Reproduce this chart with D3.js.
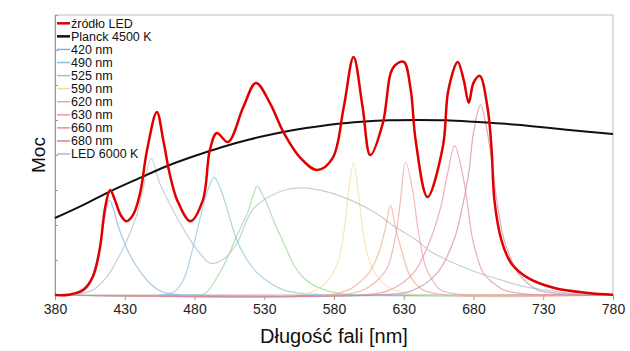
<html lang="pl">
<head>
<meta charset="utf-8">
<title>Widmo źródła LED</title>
<style>
    body {margin: 0; background: white;}
    svg {background: white; font-family: "Liberation Sans", Arial, sans-serif;}
    .frame {fill: none; stroke: #bdbdbd; stroke-width: 1;}
    .axis path, .axis line {stroke: #9a9a9a;}
    .axis text {fill: #222; font-size: 14px;}
    .comp {fill: none; stroke-width: 1.2; stroke-opacity: 0.7;}
    .legend text {font-size: 12.5px; fill: #111;}
</style>
</head>
<body>
<div id="chart"></div>
<script src="https://cdn.jsdelivr.net/npm/d3@7"></script>
<script>
// values: [wavelength nm, power]
var xTicks = [380, 430, 480, 530, 580, 630, 680, 730, 780];

var ledSource = [[380,0],[390,0.01],[400,0.14],[407,0.51],[412,1.29],[416,2.51],[419.5,3.0],[423,2.71],[427,2.29],[431,2.11],
    [436,2.29],[441,2.91],[446,4.14],[453,5.23],[457.6,4.43],[462,3.5],[467.6,2.71],[477,2.11],[486,2.71],[491,4.14],
    [496,4.63],[504,4.37],[515,5.37],[524,6.06],[534,5.49],[544,4.63],[556,3.91],[568,3.57],[579,3.91],[587,5.37],
    [594,6.8],[600.5,5.37],[606,4.0],[615,4.91],[620.6,6.34],[624,6.57],[630,6.66],[635,5.86],[638.5,4.43],[647,2.8],
    [658,4.23],[662,5.86],[668.7,6.66],[673,6.14],[676.6,5.49],[680,6.06],[684.5,6.26],[690,5.37],[693,4.14],[695,2.71],
    [700,1.57],[707,0.91],[719,0.49],[738,0.2],[762,0.06],[780,0.01]];

var planck = [[380,2.2],[400,2.57],[420,2.97],[440,3.33],[460,3.68],[480,3.97],[500,4.23],[520,4.45],[540,4.63],[560,4.77],
    [580,4.88],[600,4.95],[620,4.99],[640,5.0],[660,4.99],[680,4.95],[700,4.9],[720,4.83],[740,4.75],[760,4.67],[780,4.6]];

var led420 = [[380,0],[398,0.05],[404,0.25],[408,0.7],[412,1.37],[415,2.1],[419,2.71],[422,2.45],[425,2.0],[429,1.57],
    [433,1.2],[438,0.85],[443,0.57],[449,0.3],[455,0.12],[462,0.03],[475,0],[780,0]];
var led490 = [[380,0],[455,0],[465,0.08],[472,0.43],[479,1.37],[486,2.51],[490,3.05],[494,3.37],[498,3.1],[503,2.51],
    [510,1.6],[517,1.05],[525,0.63],[535,0.32],[544,0.14],[560,0.03],[580,0],[780,0]];
var led525 = [[380,0],[480,0],[488,0.06],[498,0.63],[504,1.1],[509,1.57],[514,2.0],[518,2.34],[522,2.85],[525,3.11],
    [529,2.85],[533,2.51],[538,2.0],[543,1.57],[552,0.8],[558,0.5],[565,0.29],[581,0.06],[600,0],[780,0]];
var led590 = [[380,0],[550,0],[562,0.06],[574,0.34],[582.5,0.91],[587,1.77],[590.5,3.0],[594,3.77],[597.5,2.91],[601,1.77],
    [606,0.91],[615,0.34],[629,0.06],[645,0],[780,0]];
var led620 = [[380,0],[575,0],[590,0.14],[598,0.35],[605,0.63],[612,1.2],[617,1.94],[620.5,2.57],[624,1.94],[629,1.2],
    [633.5,0.63],[638,0.35],[644,0.14],[660,0],[780,0]];
var led630 = [[380,0],[585,0],[598,0.1],[605,0.23],[612,0.45],[618.5,0.8],[624,1.66],[627.7,2.71],[631.3,3.8],[636.4,3.0],
    [640,1.94],[645.7,0.8],[651,0.4],[656.5,0.14],[670,0.02],[690,0],[780,0]];
var led660 = [[380,0],[600,0],[620,0.14],[637,0.63],[649,1.57],[656.5,2.51],[661.5,3.49],[666.5,4.26],[672,3.49],[676,2.51],
    [679.5,1.57],[687,0.63],[694,0.35],[702,0.14],[720,0.02],[740,0],[780,0]];
var led680 = [[380,0],[610,0],[637,0.14],[654,0.63],[666,1.57],[672,2.51],[676.6,3.49],[680,4.63],[685,5.43],[690,4.63],
    [694,3.49],[697.5,2.51],[702,1.57],[712,0.63],[719,0.33],[726,0.14],[745,0.03],[770,0],[780,0]];
var led6000 = [[380,0],[395,0.02],[407,0.14],[417,0.51],[424.5,1.0],[431.7,1.57],[439,2.34],[443,3.0],[449,3.9],[455,3.2],
    [461,2.7],[467.6,2.2],[477,1.57],[486,1.09],[491,0.91],[500,1.0],[510,1.45],[521.5,2.43],[533,2.8],[545,3.0],
    [557,3.06],[576,2.94],[592,2.71],[610,2.34],[624,1.94],[638,1.6],[649,1.25],[661,1.0],[680,0.68],[698,0.45],
    [714,0.26],[732,0.14],[750,0.05],[770,0.01],[780,0]];

var legendNames = ["źródło LED", "Planck 4500 K", "420 nm", "490 nm", "525 nm", "590 nm", "620 nm", "630 nm", "660 nm", "680 nm", "LED 6000 K"];
var legendColors = ["#e00000", "#111111", "#7fb0de", "#86c3d6", "#8fd88f", "#f5dc9c", "#f2a882", "#f09a9a", "#e88aa0", "#c58aa6", "#b0bac2"];

var width = 630, height = 351;
var margin = {top: 15, left: 55, right: 17, bottom: 56};

var svg = d3.select("#chart")
    .append("svg")
    .attr("width", width)
    .attr("height", height);

var x = d3.scaleLinear()
    .domain([380, 780])
    .range([margin.left, width - margin.right]);

var y = d3.scaleLinear()
    .domain([0, 8])
    .range([height - margin.bottom, margin.top]);

var line = d3.line()
    .x(function(d) { return x(d[0]); })
    .y(function(d) { return Math.min(y(d[1]), y(0)); })
    .curve(d3.curveCatmullRom.alpha(0.5));

// frame
svg.append("rect")
    .attr("class", "frame")
    .attr("x", x(380))
    .attr("y", y(8))
    .attr("width", x(780) - x(380))
    .attr("height", y(0) - y(8));

svg.append("g")
    .attr("class", "axis")
    .attr("transform", "translate(0," + y(0) + ")")
    .call(d3.axisBottom(x).tickValues(xTicks).tickSize(5).tickSizeOuter(0).tickPadding(4));

svg.append("g")
    .attr("class", "axis")
    .attr("transform", "translate(" + x(380) + ",0)")
    .call(d3.axisLeft(y).ticks(8).tickSize(-3).tickSizeOuter(0).tickFormat(""));

// component spectra (legend order 2..10)
var comps = [led420, led490, led525, led590, led620, led630, led660, led680, led6000];
svg.selectAll(".comp")
    .data(comps)
    .enter().append("path")
    .attr("class", "comp")
    .attr("d", line)
    .style("stroke", function(d, i) { return legendColors[i + 2]; });

svg.append("path")
    .attr("d", line(planck))
    .style("fill", "none")
    .style("stroke", legendColors[1])
    .style("stroke-width", 2);

svg.append("path")
    .attr("d", line(ledSource))
    .style("fill", "none")
    .style("stroke", legendColors[0])
    .style("stroke-width", 2.5);

// legend
var legend = svg.append("g").attr("class", "legend");
var rows = legend.selectAll("g")
    .data(legendNames)
    .enter().append("g")
    .attr("transform", function(d, i) { return "translate(57," + (23.3 + i * 13.07) + ")"; });

rows.append("line")
    .attr("x1", 0).attr("x2", 13)
    .style("stroke", function(d, i) { return legendColors[i]; })
    .style("stroke-width", function(d, i) { return i < 2 ? 2.5 : 1.5; });

rows.append("text")
    .attr("x", 14)
    .attr("dy", "0.35em")
    .text(function(d) { return d; });

// axis titles
svg.append("text")
    .attr("x", (x(380) + x(780)) / 2)
    .attr("y", 343)
    .attr("text-anchor", "middle")
    .style("font-size", "20px")
    .style("fill", "#111")
    .text("Długość fali [nm]");

svg.append("text")
    .attr("transform", "translate(45,155) rotate(-90)")
    .attr("text-anchor", "middle")
    .style("font-size", "19px")
    .style("fill", "#111")
    .text("Moc");
</script>
</body>
</html>
